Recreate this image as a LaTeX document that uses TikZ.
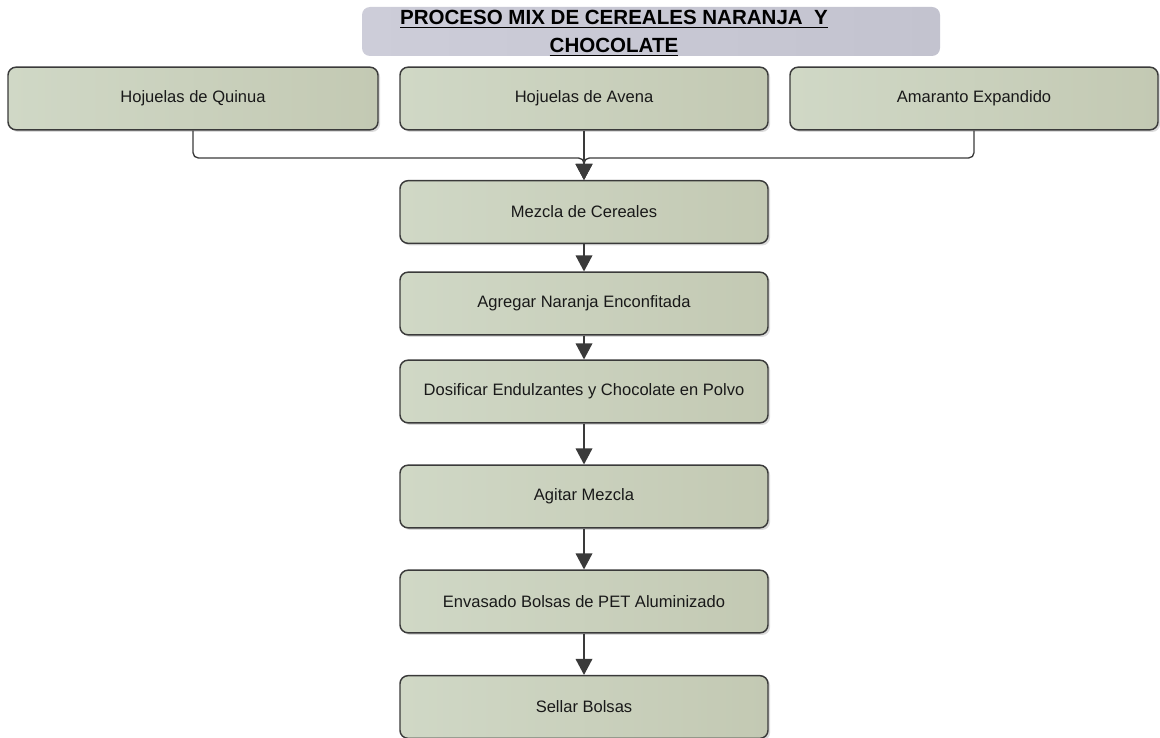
\documentclass[tikz,border=0pt]{standalone}
\usepackage{fontspec}
\setmainfont{Liberation Sans}
\usetikzlibrary{arrows.meta,shadows}
\definecolor{boxA}{HTML}{D0D8C6}
\definecolor{boxB}{HTML}{C3C9B3}
\definecolor{edge}{HTML}{3A3A3A}
\definecolor{titA}{HTML}{CDCDD9}
\definecolor{titB}{HTML}{C3C3CF}
\begin{document}
\begin{tikzpicture}[x=0.75pt,y=-0.75pt,
  stepbox/.style={draw=edge, line width=1.1pt, rounded corners=6pt,
    left color=boxA, right color=boxB, minimum width=276pt, minimum height=47pt,
    font=\fontsize{12.4}{14}\selectfont, text=black!90,
    drop shadow={shadow xshift=1.6pt, shadow yshift=-1.6pt, fill=black!35, opacity=0.4}},
  titlebg/.style={draw=none, rounded corners=6pt, left color=titA, right color=titB,
    minimum width=433.5pt, minimum height=36.75pt},
  flow/.style={draw=edge, line width=1pt, -{Triangle[width=12.5pt,length=12pt]}}]
\useasboundingbox (0,0) rectangle (1160,738);

\node[titlebg] (tb) at (651,31.5) {};
\node[font=\bfseries\fontsize{15.4}{21}\selectfont, align=center, text=black] (title) at (614,33)
  {\underline{PROCESO MIX DE CEREALES NARANJA\ \ Y}\\\underline{CHOCOLATE}};

\node[stepbox, minimum width=277.5pt] (q) at (193,98.5) {Hojuelas de Quinua};
\node[stepbox] (a) at (584,98.5) {Hojuelas de Avena};
\node[stepbox] (r) at (974,98.5) {Amaranto Expandido};

\node[stepbox] (m)  at (584,212)   {Mezcla de Cereales};
\node[stepbox] (ag) at (584,303.5) {Agregar Naranja Enconfitada};
\node[stepbox] (d)  at (584,391.5) {Dosificar Endulzantes y Chocolate en Polvo};
\node[stepbox] (ai) at (584,496.5) {Agitar Mezcla};
\node[stepbox] (e)  at (584,601.5) {Envasado Bolsas de PET Aluminizado};
\node[stepbox] (s)  at (584,707)   {Sellar Bolsas};

\coordinate (j) at (584,158);
\draw[flow, rounded corners=4pt] (q.south) |- (j) -- (m.north);
\draw[flow, rounded corners=4pt] (r.south) |- (j) -- (m.north);
\draw[flow] (a.south) -- (m.north);
\draw[flow] (m.south) -- (ag.north);
\draw[flow] (ag.south) -- (d.north);
\draw[flow] (d.south) -- (ai.north);
\draw[flow] (ai.south) -- (e.north);
\draw[flow] (e.south) -- (s.north);
\end{tikzpicture}
\end{document}
